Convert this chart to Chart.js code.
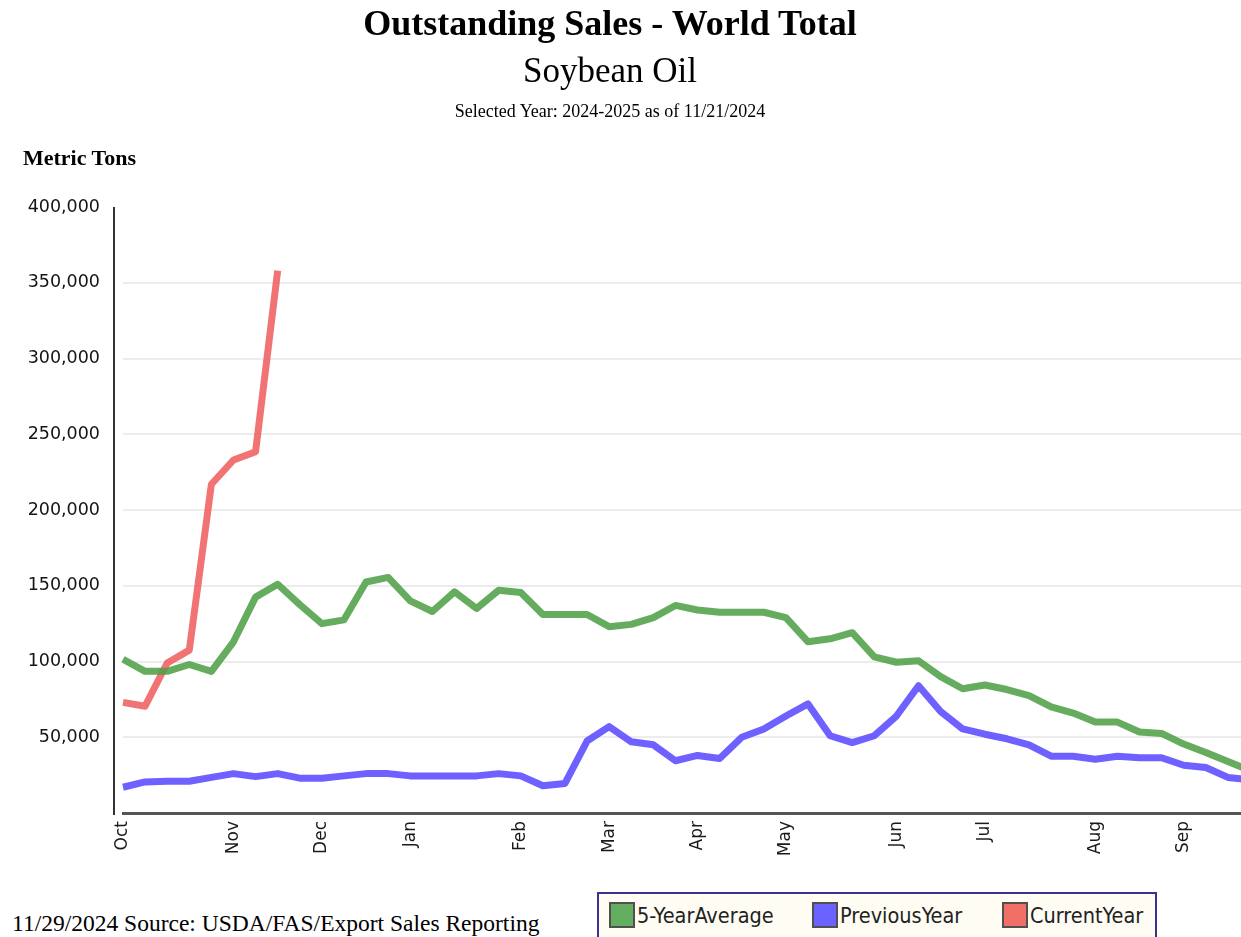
<!DOCTYPE html>
<html>
<head>
<meta charset="utf-8">
<title>Outstanding Sales - World Total</title>
<script src="https://cdn.jsdelivr.net/npm/chart.js@4.4.1/dist/chart.umd.min.js"></script>
<style>
  html, body { margin: 0; padding: 0; background: #fff; overflow: hidden; }
  #wrap { position: relative; width: 1241px; height: 937px; overflow: hidden; }
  #chart { position: absolute; left: 0; top: 0; }
  .serif { position: absolute; font-family: "Liberation Serif", "Times New Roman", serif; color: #000; white-space: nowrap; line-height: 1; }
  .center { left: 0; width: 1220px; text-align: center; }
  #title { top: 5px; font-size: 36px; font-weight: bold; }
  #subtitle { top: 53px; font-size: 35px; }
  #asof { top: 102px; font-size: 18px; }
  #units { left: 23px; top: 147px; font-size: 22px; font-weight: bold; }
  #source { left: 12px; top: 912px; font-size: 23.5px; }
  #legend { position: absolute; left: 597px; top: 892px; width: 556px; height: 60px;
            border: 2px solid #3d3090; background: #fffcf4; }
  #legend .item { position: absolute; top: 8px; height: 26px; display: flex; align-items: center;
                  font-family: "Liberation Sans Narrow", "DejaVu Sans Condensed", sans-serif;
                  font-size: 21.5px; color: #222; white-space: nowrap; }
  #legend .swatch { width: 22px; height: 22px; border: 2px solid #505050; margin-right: 2px; }
</style>
</head>
<body>
<div id="wrap">
  <canvas id="chart" width="1260" height="873"></canvas>
  <div id="title" class="serif center">Outstanding Sales - World Total</div>
  <div id="subtitle" class="serif center">Soybean Oil</div>
  <div id="asof" class="serif center">Selected Year: 2024-2025 as of 11/21/2024</div>
  <div id="units" class="serif">Metric Tons</div>
  <div id="source" class="serif">11/29/2024 Source: USDA/FAS/Export Sales Reporting</div>
  <div id="legend"></div>
</div>
<script>
// week ending dates, marketing year 2024-2025 (Oct - Sep)
const weeks = [
  '10/03', '10/10', '10/17', '10/24', '10/31',
  '11/07', '11/14', '11/21', '11/28',
  '12/05', '12/12', '12/19', '12/26',
  '01/02', '01/09', '01/16', '01/23', '01/30',
  '02/06', '02/13', '02/20', '02/27',
  '03/06', '03/13', '03/20', '03/27',
  '04/03', '04/10', '04/17', '04/24',
  '05/01', '05/08', '05/15', '05/22', '05/29',
  '06/05', '06/12', '06/19', '06/26',
  '07/03', '07/10', '07/17', '07/24', '07/31',
  '08/07', '08/14', '08/21', '08/28',
  '09/04', '09/11', '09/18', '09/25'
];
const monthNames = ['Jan', 'Feb', 'Mar', 'Apr', 'May', 'Jun', 'Jul', 'Aug', 'Sep', 'Oct', 'Nov', 'Dec'];

const fiveYearAverage = [
  101500, 93500, 93500, 98000, 93500,
  113000, 142500, 151000, 137500,
  125000, 127500, 152500, 155500,
  140000, 133000, 146000, 135000, 147000,
  145500, 131000, 131000, 131000,
  123000, 124500, 129000, 137000,
  134000, 132500, 132500, 132500,
  129000, 113000, 115000, 119000, 103000,
  99500, 100500, 90000, 82000,
  84500, 81500, 77500, 70000, 66000,
  60000, 60000, 53500, 52500,
  45500, 40000, 34000, 28000
];
const previousYear = [
  17000, 20500, 21000, 21000, 23500,
  26000, 24000, 26000, 23000,
  23000, 24500, 26000, 26000,
  24500, 24500, 24500, 24500, 26000,
  24500, 18000, 19500, 47500,
  57000, 47000, 45000, 34500,
  38000, 36000, 50000, 55500,
  64000, 72000, 51000, 46500, 51000,
  64000, 84000, 67000, 55500,
  52000, 49000, 45000, 37500, 37500,
  35500, 37500, 36500, 36500,
  31500, 30000, 23500, 22000
];
const currentYear = [73000, 70500, 99000, 107500, 217000, 233000, 238500, 358000];

const yTicks = [0, 50000, 100000, 150000, 200000, 250000, 300000, 350000, 400000];

// legend item offsets inside the legend box
const legendOffsets = [10, 213, 403];
const swatchColors = ['#64af5f', '#6a63ff', '#f07068'];

// y axis line sits a little left of the first week, as in the original
const yAxisLine = {
  id: 'yAxisLine',
  afterDraw(chart) {
    const { ctx, chartArea } = chart;
    ctx.save();
    ctx.strokeStyle = '#333';
    ctx.lineWidth = 2;
    ctx.beginPath();
    ctx.moveTo(chartArea.left - 9, chartArea.top);
    ctx.lineTo(chartArea.left - 9, chartArea.bottom + 2);
    ctx.stroke();
    ctx.restore();
  }
};

const ctx = document.getElementById('chart').getContext('2d');
const chart = new Chart(ctx, {
  type: 'line',
  data: {
    labels: weeks,
    datasets: [
      { label: '5-YearAverage', data: fiveYearAverage, borderColor: 'rgba(80,160,72,0.88)' },
      { label: 'PreviousYear', data: previousYear, borderColor: 'rgba(90,75,255,0.88)' },
      { label: 'CurrentYear', data: currentYear, borderColor: 'rgba(240,90,90,0.85)' }
    ]
  },
  options: {
    responsive: false,
    animation: false,
    devicePixelRatio: 1,
    layout: { padding: { top: 207, right: 10, left: 0, bottom: 0 } },
    elements: {
      line: { borderWidth: 7, tension: 0, borderJoinStyle: 'round', fill: false },
      point: { radius: 0, hoverRadius: 0 }
    },
    plugins: {
      legend: { display: false },
      title: { display: false },
      tooltip: { enabled: false }
    },
    scales: {
      x: {
        type: 'category',
        offset: false,
        grid: { display: false, drawTicks: false },
        border: { display: true, color: '#555', width: 3 },
        ticks: {
          autoSkip: false,
          minRotation: 90,
          maxRotation: 90,
          padding: 8,
          color: '#1a1a1a',
          font: { family: 'DejaVu Sans', size: 17 },
          callback: (value, i) => {
            const [m, d] = weeks[i].split('/').map(Number);
            return d <= 7 ? monthNames[m - 1] : '';
          }
        },
        afterFit: (scale) => {
          scale.height = 60;
          scale.paddingLeft = 0;
          scale.paddingRight = 0;
        }
      },
      y: {
        min: 0,
        max: 400000,
        border: { display: false },
        grid: {
          drawTicks: false,
          lineWidth: 2,
          color: (c) => (c.tick.value === 0 || c.tick.value === 400000) ? 'rgba(0,0,0,0)' : '#ececec'
        },
        afterBuildTicks: (scale) => { scale.ticks = yTicks.map(v => ({ value: v })); },
        ticks: {
          padding: 23,
          color: '#141414',
          font: { family: 'DejaVu Sans', size: 17.5 },
          callback: (v) => v === 0 ? '' : v.toLocaleString('en-US')
        },
        afterFit: (scale) => { scale.width = 123; }
      }
    }
  },
  plugins: [yAxisLine]
});

// legend in a bordered box below the plot
const legendBox = document.getElementById('legend');
chart.data.datasets.forEach((ds, i) => {
  const item = document.createElement('div');
  item.className = 'item';
  item.style.left = legendOffsets[i] + 'px';
  const sw = document.createElement('span');
  sw.className = 'swatch';
  sw.style.background = swatchColors[i];
  const txt = document.createElement('span');
  txt.textContent = ds.label;
  item.appendChild(sw);
  item.appendChild(txt);
  legendBox.appendChild(item);
});
</script>
</body>
</html>
